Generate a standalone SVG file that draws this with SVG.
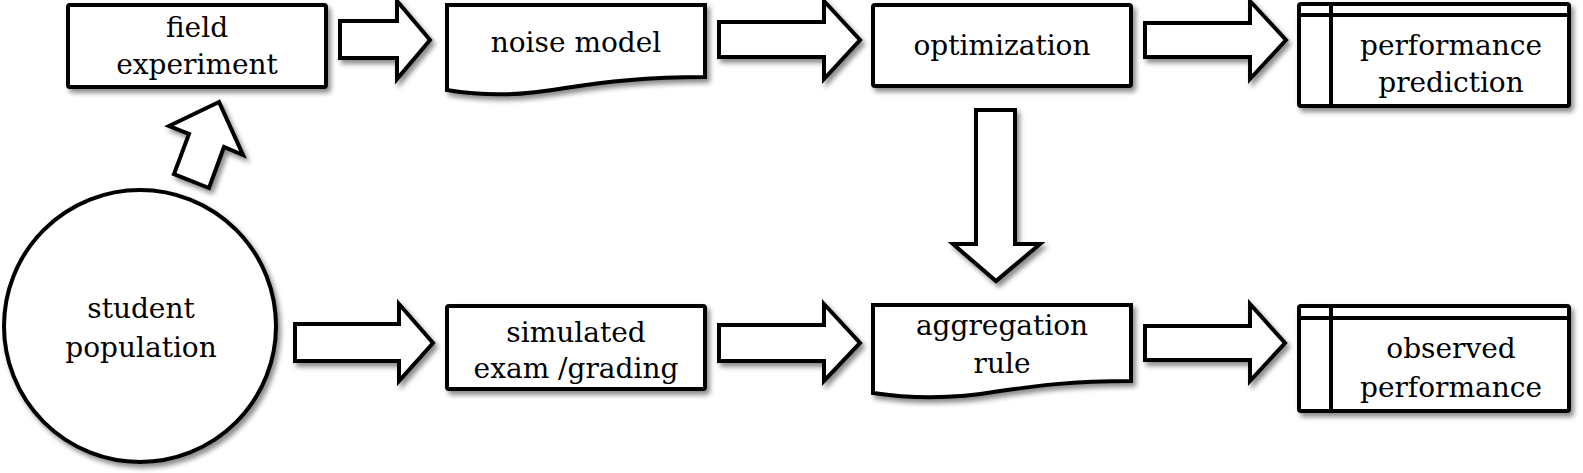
<svg xmlns="http://www.w3.org/2000/svg" width="1583" height="473" viewBox="0 0 1583 473">
<defs>
<filter id="sh" x="-10%" y="-10%" width="130%" height="140%">
<feDropShadow dx="3" dy="4" stdDeviation="2.5" flood-color="#000" flood-opacity="0.45"/>
</filter>
</defs>
<style>
.s{fill:#fff;stroke:#000;stroke-width:4;stroke-linejoin:miter;filter:url(#sh)}
.l{fill:none;stroke:#000;stroke-width:4}
.a{fill:#fff;stroke:#000;stroke-width:4;stroke-linejoin:miter;filter:url(#sh)}
.t{font-family:'DejaVu Serif',serif;font-size:28px;fill:#000;text-anchor:middle}
</style>
<rect width="1583" height="473" fill="#fff"/>
<g id="connectors">
<polygon class="a" points="340,21 397,21 397,1 430,40 397,79 397,58 340,58"/>
<polygon class="a" points="719,22 824,22 824,1 860,40 824,79 824,57 719,57"/>
<polygon class="a" points="1145,23 1250,23 1250,1 1286,40 1250,79 1250,57 1145,57"/>
<polygon class="a" points="219,102 169,126 189,134 174,174 209,188 224,147 243,155"/>
<polygon class="a" points="976,110 1015,110 1015,244 1040,244 996,281 953,244 976,244"/>
<polygon class="a" points="295,324 399,324 399,304 433,343 399,381 399,361 295,361"/>
<polygon class="a" points="719,325 824,325 824,304 860,343 824,381 824,361 719,361"/>
<polygon class="a" points="1145,326 1250,326 1250,304 1285,343 1250,381 1250,360 1145,360"/>
</g>
<g id="field-experiment">
<rect class="s" x="68" y="5" width="258" height="82" rx="2"/>
<text class="t" x="197" y="37">field</text>
<text class="t" x="197" y="74">experiment</text>
</g>
<g id="noise-model">
<path class="s" d="M447,5 H705 V77 C645,77 605,82 565,88 C525,95 490,97 447,90 Z"/>
<text class="t" x="576" y="52">noise model</text>
</g>
<g id="optimization">
<rect class="s" x="873" y="5" width="258" height="81" rx="2"/>
<text class="t" x="1002" y="55">optimization</text>
</g>
<g id="performance-prediction">
<rect class="s" x="1299" y="4" width="270" height="102" rx="2"/>
<line class="l" x1="1299" y1="15" x2="1569" y2="15"/>
<line class="l" x1="1331" y1="4" x2="1331" y2="106"/>
<text class="t" x="1451" y="55">performance</text>
<text class="t" x="1451" y="92">prediction</text>
</g>
<g id="student-population">
<circle class="s" cx="140" cy="326" r="136"/>
<text class="t" x="141" y="318">student</text>
<text class="t" x="141" y="357">population</text>
</g>
<g id="simulated-exam">
<rect class="s" x="447" y="306" width="258" height="83" rx="2"/>
<text class="t" x="576" y="342">simulated</text>
<text class="t" x="576" y="378">exam /grading</text>
</g>
<g id="aggregation-rule">
<path class="s" d="M873,305 H1131 V381 C1070,381 1035,386 1000,391 C960,398 920,400 873,393 Z"/>
<text class="t" x="1002" y="335">aggregation</text>
<text class="t" x="1002" y="373">rule</text>
</g>
<g id="observed-performance">
<rect class="s" x="1299" y="306" width="270" height="105" rx="2"/>
<line class="l" x1="1299" y1="318" x2="1569" y2="318"/>
<line class="l" x1="1331" y1="306" x2="1331" y2="411"/>
<text class="t" x="1451" y="358">observed</text>
<text class="t" x="1451" y="397">performance</text>
</g>
</svg>
